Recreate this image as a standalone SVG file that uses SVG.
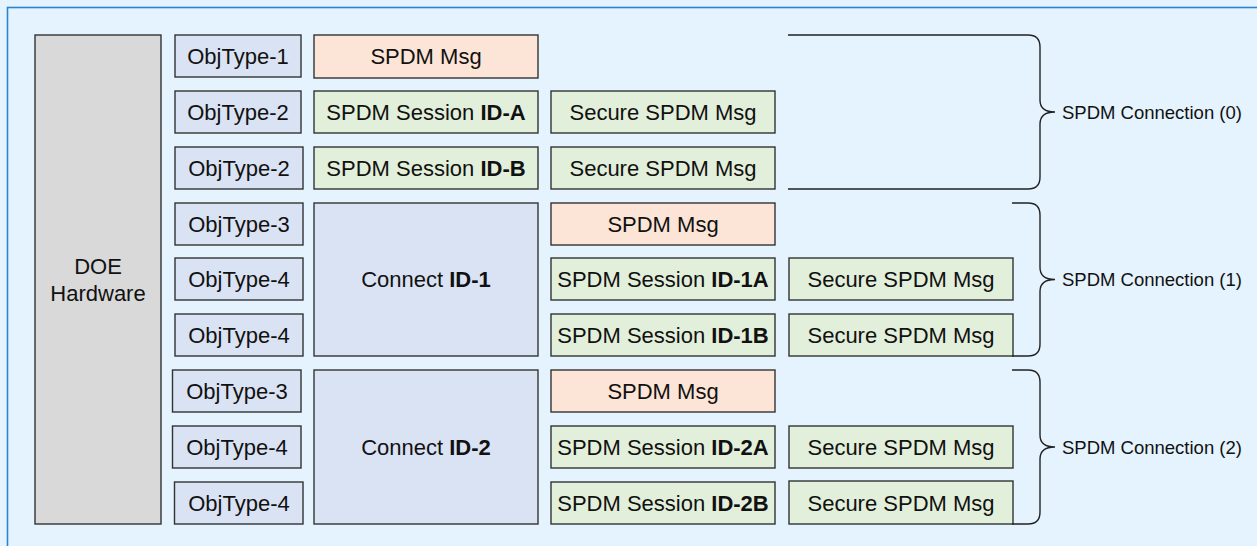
<svg xmlns="http://www.w3.org/2000/svg" width="1257" height="546" viewBox="0 0 1257 546">
<style>
.b{stroke:#333;stroke-width:1.4}
.hw{fill:#d9d9d9}
.ot{fill:#dae3f3}
.or{fill:#fce5d6}
.gr{fill:#e2efda}
text{font-family:"Liberation Sans",Arial,Helvetica,sans-serif;font-size:22px;fill:#111;text-anchor:middle}
.bold{font-weight:bold}
.lbl{font-size:18.5px;text-anchor:start}
.br{fill:none;stroke:#222;stroke-width:1.4}
</style>
<rect x="0" y="0" width="1257" height="546" fill="#e5f3fe"/>
<rect x="7.5" y="7.5" width="1300" height="600" fill="#e5f3fe" stroke="#2a84d2" stroke-width="1.6"/>

<g id="doe-hardware"><rect class="b hw" x="35" y="35" width="126" height="489"/><text x="98" y="274">DOE</text><text x="98" y="301">Hardware</text></g>

<g id="objtype-1"><rect class="b ot" x="175" y="35" width="126" height="42"/><text x="238" y="64">ObjType-1</text></g>
<g id="objtype-2a"><rect class="b ot" x="175" y="91" width="126" height="42"/><text x="238" y="120">ObjType-2</text></g>
<g id="objtype-2b"><rect class="b ot" x="175" y="147" width="128" height="42"/><text x="239" y="176">ObjType-2</text></g>
<g id="objtype-3a"><rect class="b ot" x="175" y="203" width="128" height="42"/><text x="239" y="232">ObjType-3</text></g>
<g id="objtype-4a"><rect class="b ot" x="175" y="258" width="128" height="42"/><text x="239" y="287">ObjType-4</text></g>
<g id="objtype-4b"><rect class="b ot" x="175" y="314" width="128" height="42"/><text x="239" y="343">ObjType-4</text></g>
<g id="objtype-3b"><rect class="b ot" x="172.5" y="370" width="128.5" height="42"/><text x="237" y="399">ObjType-3</text></g>
<g id="objtype-4c"><rect class="b ot" x="172.5" y="426" width="128.5" height="42"/><text x="237" y="455">ObjType-4</text></g>
<g id="objtype-4d"><rect class="b ot" x="174.5" y="482" width="128.5" height="42"/><text x="239" y="511">ObjType-4</text></g>

<g id="spdm-msg-0"><rect class="b or" x="314" y="35" width="224" height="43"/><text x="426" y="64">SPDM Msg</text></g>
<g id="session-a"><rect class="b gr" x="314" y="91" width="224" height="42"/><text x="426" y="120">SPDM Session <tspan class="bold">ID-A</tspan></text></g>
<g id="session-b"><rect class="b gr" x="314" y="147" width="224" height="42"/><text x="426" y="176">SPDM Session <tspan class="bold">ID-B</tspan></text></g>
<g id="secure-a"><rect class="b gr" x="551" y="91" width="224" height="42"/><text x="663" y="120">Secure SPDM Msg</text></g>
<g id="secure-b"><rect class="b gr" x="551" y="147" width="224" height="42"/><text x="663" y="176">Secure SPDM Msg</text></g>

<g id="connect-1"><rect class="b ot" x="314" y="203" width="224" height="153"/><text x="426" y="287">Connect <tspan class="bold">ID-1</tspan></text></g>
<g id="spdm-msg-1"><rect class="b or" x="551" y="203" width="224" height="42"/><text x="663" y="232">SPDM Msg</text></g>
<g id="session-1a"><rect class="b gr" x="551" y="258" width="224" height="42"/><text x="663" y="287">SPDM Session <tspan class="bold">ID-1A</tspan></text></g>
<g id="session-1b"><rect class="b gr" x="551" y="314" width="224" height="42"/><text x="663" y="343">SPDM Session <tspan class="bold">ID-1B</tspan></text></g>
<g id="secure-1a"><rect class="b gr" x="789" y="258" width="224" height="42"/><text x="901" y="287">Secure SPDM Msg</text></g>
<g id="secure-1b"><rect class="b gr" x="789" y="314" width="224" height="42"/><text x="901" y="343">Secure SPDM Msg</text></g>

<g id="connect-2"><rect class="b ot" x="314" y="370" width="224" height="154"/><text x="426" y="455">Connect <tspan class="bold">ID-2</tspan></text></g>
<g id="spdm-msg-2"><rect class="b or" x="551" y="370" width="224" height="42"/><text x="663" y="399">SPDM Msg</text></g>
<g id="session-2a"><rect class="b gr" x="551" y="426" width="224" height="42"/><text x="663" y="455">SPDM Session <tspan class="bold">ID-2A</tspan></text></g>
<g id="session-2b"><rect class="b gr" x="551" y="482" width="224" height="42"/><text x="663" y="511">SPDM Session <tspan class="bold">ID-2B</tspan></text></g>
<g id="secure-2a"><rect class="b gr" x="789" y="426" width="224" height="42"/><text x="901" y="455">Secure SPDM Msg</text></g>
<g id="secure-2b"><rect class="b gr" x="789" y="481" width="224" height="43"/><text x="901" y="511">Secure SPDM Msg</text></g>

<g id="spdm-connection-0"><path class="br" d="M788,35 H1028 Q1040,35 1040,47 V100 Q1040,112 1055,112 Q1040,112 1040,124 V177 Q1040,189 1028,189 H788"/><text class="lbl" x="1062" y="118.5">SPDM Connection (0)</text></g>
<g id="spdm-connection-1"><path class="br" d="M1012,203 H1028 Q1040,203 1040,215 V267.5 Q1040,279.5 1055,279.5 Q1040,279.5 1040,291.5 V344 Q1040,356 1028,356 H1012"/><text class="lbl" x="1062" y="286">SPDM Connection (1)</text></g>
<g id="spdm-connection-2"><path class="br" d="M1012,370 H1028 Q1040,370 1040,382 V435 Q1040,447 1055,447 Q1040,447 1040,459 V512 Q1040,524 1028,524 H1012"/><text class="lbl" x="1062" y="453.5">SPDM Connection (2)</text></g>

<g id="connectors"/>
</svg>
